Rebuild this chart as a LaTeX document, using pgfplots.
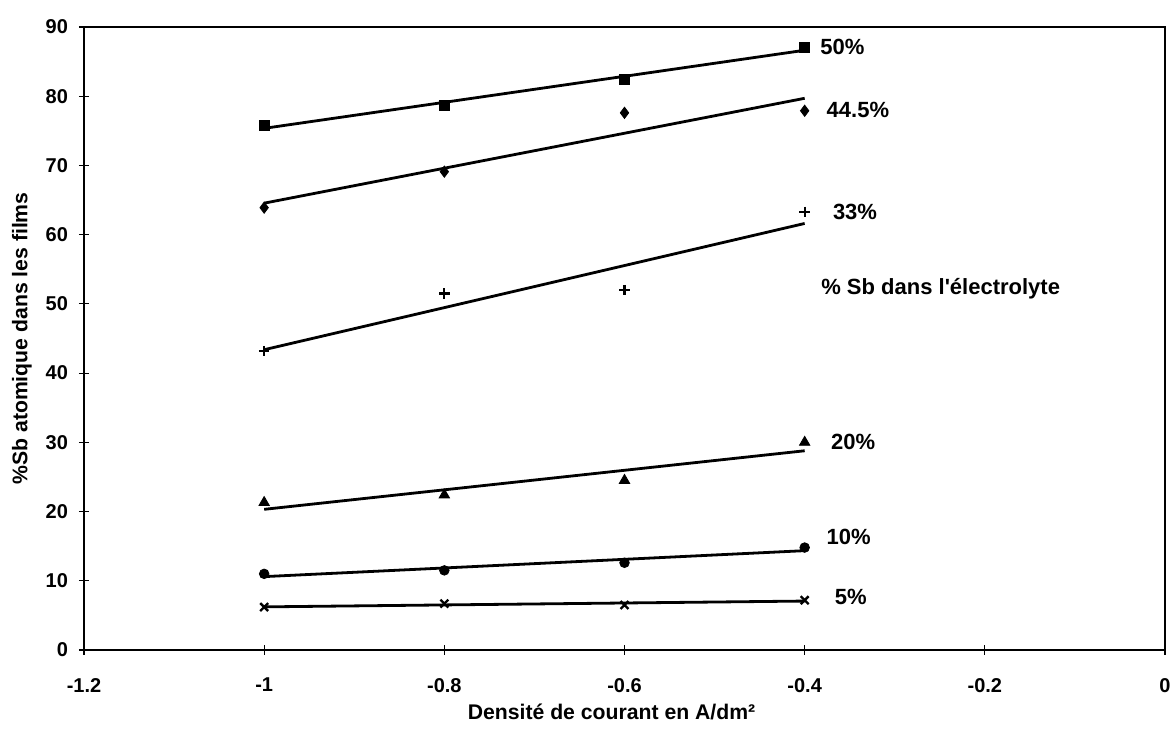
\documentclass[border=0pt]{standalone}
\usepackage{fontspec}
\setmainfont{Liberation Sans}
\usepackage{pgfplots}
\usepackage{pgfplotstable}
\pgfplotsset{compat=1.18}
\pgfplotstableread{
x s50 s445 s33 s20 s10 s5
-1.0 75.8 63.9 43.2 21.3 11.0 6.2
-0.8 78.7 69.1 51.5 22.4 11.5 6.7
-0.6 82.4 77.6 52.0 24.5 12.6 6.5
-0.4 87.1 77.9 63.3 30.0 14.8 7.2
}\data
\begin{document}
\begin{tikzpicture}
\useasboundingbox (-42pt,-40.5pt) rectangle (543.5pt,325pt);
\begin{axis}[
  anchor=south west, at={(0,0)},
  scale only axis, width=540.5pt, height=311.5pt,
  xmin=-1.2, xmax=0, ymin=0, ymax=90,
  xtick={-1.2,-1,-0.8,-0.6,-0.4,-0.2,0},
  ytick={0,10,...,90},
  xtick pos=left, ytick pos=left,
  tick align=center, major tick length=5pt,
  tick style={black, line width=0.6pt},
  axis line style={line width=0.9pt},
  /pgf/number format/assume math mode=true,
  tick label style={font=\bfseries\fontsize{10}{12}\selectfont},
  xticklabel style={yshift=-8pt},
  yticklabel style={xshift=-2pt},
  xlabel={Densité de courant en A/dm²},
  ylabel={\%Sb atomique dans les films},
  label style={font=\bfseries\fontsize{10.6}{13}\selectfont},
  xlabel style={at={(axis description cs:0.488,-0.0995)}, anchor=center},
  ylabel style={at={(axis description cs:-0.0574,0.5)}, anchor=center},
  clip=false,
]
\draw[line width=1.3pt] (rel axis cs:0,1) -- (rel axis cs:0,0) -- (rel axis cs:1,0);
% markers
\addplot[only marks, mark=square*, mark size=2.5pt, black] table[x=x,y=s50]{\data};
\addplot[only marks, mark=diamond*, mark size=2.8pt, black] table[x=x,y=s445]{\data};
\addplot[only marks, mark=+, mark size=2.6pt, black, mark options={line width=1.1pt}] table[x=x,y=s33]{\data};
\addplot[only marks, mark=triangle*, mark size=3pt, black] table[x=x,y=s20]{\data};
\addplot[only marks, mark=*, mark size=2.4pt, black] table[x=x,y=s10]{\data};
\addplot[only marks, mark=x, mark size=2.8pt, black, mark options={line width=1.2pt}] table[x=x,y=s5]{\data};
% trend lines
\addplot[no marks, black, line width=1.4pt] table[x=x,y={create col/linear regression={x=x,y=s50}}]{\data};
\addplot[no marks, black, line width=1.4pt] table[x=x,y={create col/linear regression={x=x,y=s445}}]{\data};
\addplot[no marks, black, line width=1.4pt] table[x=x,y={create col/linear regression={x=x,y=s33}}]{\data};
\addplot[no marks, black, line width=1.4pt] table[x=x,y={create col/linear regression={x=x,y=s20}}]{\data};
\addplot[no marks, black, line width=1.4pt] table[x=x,y={create col/linear regression={x=x,y=s10}}]{\data};
\addplot[no marks, black, line width=1.4pt] table[x=x,y={create col/linear regression={x=x,y=s5}}]{\data};
% labels
\begin{scope}[every node/.style={anchor=west, inner sep=0pt, font=\bfseries\fontsize{11}{13}\selectfont}]
\node at (axis cs:-0.383,87.1) {50\%};
\node at (axis cs:-0.376,78.0) {44.5\%};
\node at (axis cs:-0.369,63.3) {33\%};
\node at (axis cs:-0.382,52.2) {\% Sb dans l\textquotesingle électrolyte};
\node at (axis cs:-0.371,30.1) {20\%};
\node at (axis cs:-0.376,16.4) {10\%};
\node at (axis cs:-0.367,7.6) {5\%};
\end{scope}
\end{axis}
\end{tikzpicture}
\end{document}
